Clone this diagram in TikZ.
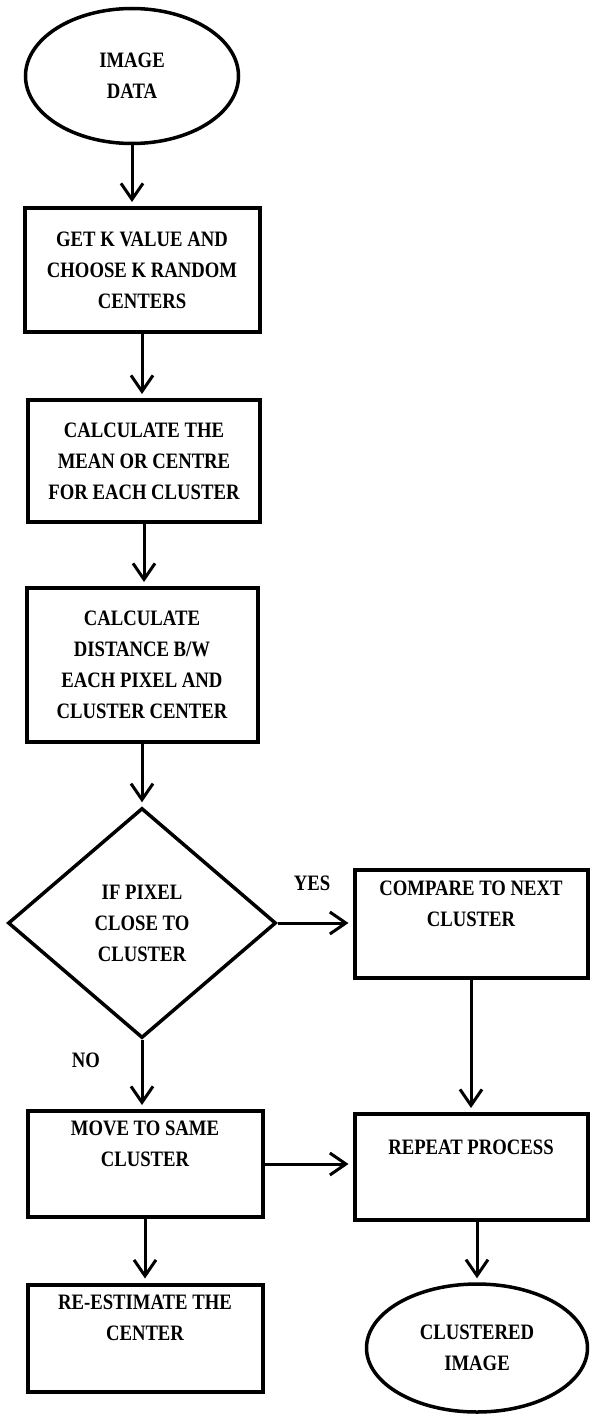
\documentclass[tikz,border=0pt]{standalone}
\usepackage{fontspec}
\setmainfont{Liberation Serif}[FakeStretch=0.85]
\usetikzlibrary{arrows.meta, positioning, shapes.geometric}

\begin{document}
\begin{tikzpicture}[x=1pt, y=-1pt,
    every node/.style={font=\fontsize{22}{31}\selectfont\bfseries, align=center, inner sep=0pt},
    procbox/.style={draw, rectangle, line width=4pt},
    term/.style={draw, ellipse, line width=3.5pt},
    decision/.style={draw, diamond, aspect=1.17, line width=3.5pt},
    arr/.style={-{Straight Barb[length=16pt, width=22pt]}, line width=3pt, shorten >=4pt}]
    \useasboundingbox (0,0) rectangle (589,1416);
    \node[term, minimum width=213, minimum height=135] (data) at (132,76) {IMAGE\\DATA};
    \node[procbox, minimum width=235, minimum height=124] (kval) at (142,270) {GET K VALUE AND\\CHOOSE K RANDOM\\CENTERS};
    \node[procbox, minimum width=232, minimum height=122] (mean) at (144,461) {CALCULATE THE\\MEAN OR CENTRE\\FOR EACH CLUSTER};
    \node[procbox, minimum width=231, minimum height=154] (dist) at (142,665) {CALCULATE\\DISTANCE B/W\\EACH PIXEL AND\\CLUSTER CENTER};
    \node[decision, minimum width=268, minimum height=230] (close) at (142,923) {IF PIXEL\\CLOSE TO\\CLUSTER};
    \node[procbox, minimum width=233, minimum height=108] (next) at (471,924) {COMPARE TO NEXT\\CLUSTER\\\strut};
    \node[procbox, minimum width=235, minimum height=106] (move) at (145,1164) {MOVE TO SAME\\CLUSTER\\\strut};
    \node[procbox, minimum width=233, minimum height=106] (rep) at (471,1167) {REPEAT PROCESS\\\strut};
    \node[procbox, minimum width=235, minimum height=107] (reest) at (145,1338) {RE-ESTIMATE THE\\CENTER\\\strut};
    \node[term, minimum width=221, minimum height=128] (clust) at (477,1348) {CLUSTERED\\IMAGE};
    \node (yes) at (312,883) {YES};
    \node (no) at (86,1060) {NO};
    \draw[arr] (data) -- (data |- kval.north);
    \draw[arr] (kval) -- (kval |- mean.north);
    \draw[arr] (mean) -- (mean |- dist.north);
    \draw[arr] (dist) -- (dist |- close.north);
    \draw[arr] (close) -- (close -| next.west);
    \draw[arr] (close) -- (close |- move.north);
    \draw[arr] (next) -- (next |- rep.north);
    \draw[arr] (move) -- (move -| rep.west);
    \draw[arr] (move) -- (move |- reest.north);
    \draw[arr] (clust |- rep.south) -- (clust);
\end{tikzpicture}
\end{document}
